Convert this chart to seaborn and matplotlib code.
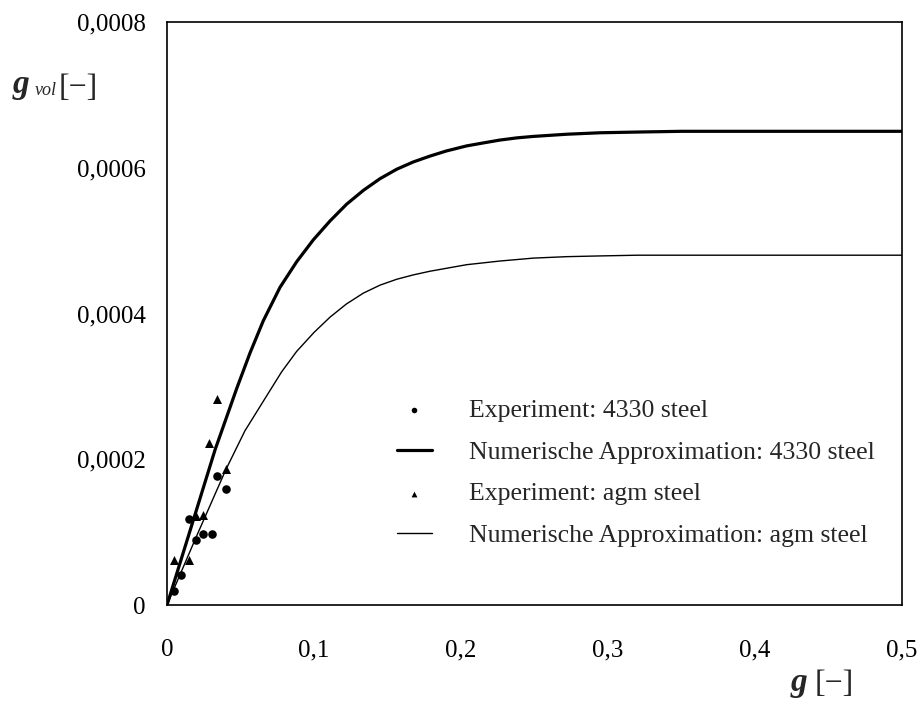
import matplotlib
matplotlib.use("Agg")
import matplotlib.pyplot as plt
import seaborn as sns
import pandas as pd

# Experimental points: 4330 steel
exp_4330_x = [0.0050, 0.0095, 0.0150, 0.0197, 0.0243, 0.0308, 0.0342, 0.0401]
exp_4330_y = [0.0000196, 0.0000412, 0.0001176, 0.0000892, 0.0000970, 0.0000970, 0.0001770, 0.0001596]

# Experimental points: agm steel
exp_agm_x = [0.0048, 0.0152, 0.0195, 0.0243, 0.0288, 0.0342, 0.0401]
exp_agm_y = [0.0000618, 0.0000618, 0.0001220, 0.0001235, 0.0002220, 0.0002820, 0.0001860]

# Numerical approximation: 4330 steel
num_4330_x = [0.0, 0.0100, 0.0186, 0.0327, 0.0474, 0.0565, 0.0655, 0.0769, 0.0882, 0.0995,
              0.1109, 0.1222, 0.1336, 0.1449, 0.1563, 0.1676, 0.1789, 0.1900, 0.2039,
              0.2150, 0.2265, 0.2380, 0.2492, 0.2720, 0.2946, 0.3200, 0.3500, 0.4000,
              0.4500, 0.5000]
num_4330_y = [0.0, 0.000065, 0.000121, 0.000213, 0.000297, 0.000346, 0.000390, 0.000436,
              0.000471, 0.000501, 0.000527, 0.000550, 0.000569, 0.000585, 0.000598,
              0.000608, 0.000616, 0.000623, 0.000630, 0.000634, 0.000638, 0.000641,
              0.000643, 0.000646, 0.000648, 0.000649, 0.000650, 0.000650, 0.000650,
              0.000650]

# Numerical approximation: agm steel
num_agm_x = [0.0, 0.0200, 0.0401, 0.0530, 0.0678, 0.0780, 0.0882, 0.1000, 0.1109, 0.1220,
             0.1336, 0.1450, 0.1563, 0.1676, 0.1789, 0.1900, 0.2039, 0.2265, 0.2492,
             0.2720, 0.2946, 0.3200, 0.3500, 0.4000, 0.4500, 0.5000]
num_agm_y = [0.0, 0.000094, 0.000186, 0.000239, 0.000287, 0.000320, 0.000348, 0.000374,
             0.000395, 0.000413, 0.000428, 0.000439, 0.000447, 0.000453, 0.000458,
             0.000462, 0.000467, 0.000472, 0.000476, 0.000478, 0.000479, 0.000480,
             0.000480, 0.000480, 0.000480, 0.000480]

x_ticks = [0.0, 0.1, 0.2, 0.3, 0.4, 0.5]
x_tick_labels = ["0", "0,1", "0,2", "0,3", "0,4", "0,5"]
y_ticks = [0.0, 0.0002, 0.0004, 0.0006, 0.0008]
y_tick_labels = ["0", "0,0002", "0,0004", "0,0006", "0,0008"]

label_exp_4330 = "Experiment: 4330 steel"
label_num_4330 = "Numerische Approximation: 4330 steel"
label_exp_agm = "Experiment: agm steel"
label_num_agm = "Numerische Approximation: agm steel"

sns.set_theme(style="white")
plt.rcParams["font.family"] = ["Liberation Serif", "DejaVu Serif"]
plt.rcParams["axes.edgecolor"] = "black"
plt.rcParams["axes.linewidth"] = 1.2

W, H = 917, 701
fig = plt.figure(figsize=(W / 100, H / 100), dpi=100)
ax = fig.add_axes([167 / W, 1 - 605 / H, (902 - 167) / W, (605 - 22) / H])

df_e1 = pd.DataFrame({"x": exp_4330_x, "y": exp_4330_y})
df_e2 = pd.DataFrame({"x": exp_agm_x, "y": exp_agm_y})
df_n1 = pd.DataFrame({"x": num_4330_x, "y": num_4330_y})
df_n2 = pd.DataFrame({"x": num_agm_x, "y": num_agm_y})

sns.lineplot(data=df_n1, x="x", y="y", ax=ax, color="black", lw=2.3,
             label=label_num_4330, sort=False)
sns.lineplot(data=df_n2, x="x", y="y", ax=ax, color="black", lw=1.0,
             label=label_num_agm, sort=False)
sns.scatterplot(data=df_e1, x="x", y="y", ax=ax, color="black", marker="o",
                s=38, linewidth=0, label=label_exp_4330, zorder=3)
sns.scatterplot(data=df_e2, x="x", y="y", ax=ax, color="black", marker="^",
                s=42, linewidth=0, label=label_exp_agm, zorder=3)

ax.set_xlim(0, 0.5)
ax.set_ylim(0, 0.0008)
ax.set_xticks(x_ticks)
ax.set_xticklabels(x_tick_labels)
ax.set_yticks(y_ticks)
ax.set_yticklabels(y_tick_labels)
ax.set_xlabel("")
ax.set_ylabel("")
for s in ax.spines.values():
    s.set_visible(True)
    s.set_color("black")
    s.set_linewidth(1.2)
ax.tick_params(axis="both", direction="inout", length=11, width=1.2,
               labelsize=18, colors="black")
ax.tick_params(axis="x", pad=19)
ax.tick_params(axis="y", pad=10)

handles, labels = ax.get_legend_handles_labels()
order = [label_exp_4330, label_num_4330, label_exp_agm, label_num_agm]
hmap = dict(zip(labels, handles))
leg = ax.legend([hmap[k] for k in order], order, loc="upper left",
                bbox_to_anchor=(397 / W, 1 - 399 / H), bbox_transform=fig.transFigure,
                frameon=False, fontsize=18.5, handlelength=1.35, handletextpad=1.45,
                labelspacing=0.73, borderpad=0, borderaxespad=0, markerscale=0.65)

# axis titles
fig.text(13 / W, 1 - 93 / H, "g", fontsize=24, fontweight="bold", fontstyle="italic",
         ha="left", va="baseline")
fig.text(35 / W, 1 - 95 / H, "vol", fontsize=13, fontstyle="italic",
         ha="left", va="baseline")
fig.text(59 / W, 1 - 96 / H, "[\u2212]", fontsize=23, ha="left", va="baseline")

fig.text(791 / W, 1 - 691 / H, "g", fontsize=24, fontweight="bold", fontstyle="italic",
         ha="left", va="baseline")
fig.text(815 / W, 1 - 692 / H, "[\u2212]", fontsize=23, ha="left", va="baseline")

fig.savefig("out.png", dpi=100)
